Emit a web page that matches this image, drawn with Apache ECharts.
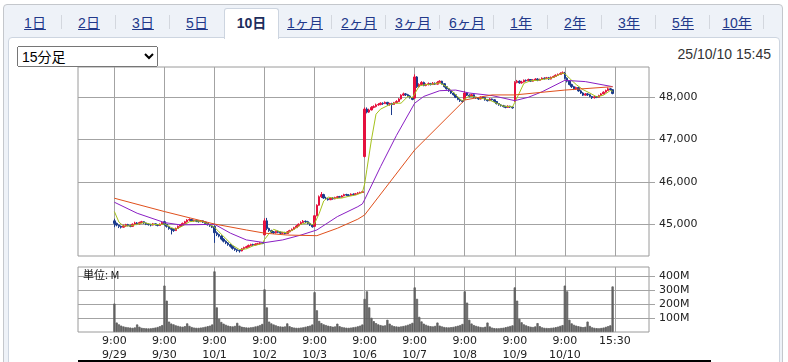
<!DOCTYPE html>
<html><head><meta charset="utf-8">
<script src="https://cdn.jsdelivr.net/npm/echarts@6/dist/echarts.min.js"></script>
<style>
html,body{margin:0;padding:0;background:#fff;width:788px;height:362px;overflow:hidden;font-family:"Liberation Sans","Noto Sans CJK JP",sans-serif;}
#outer{position:absolute;left:3px;top:4px;width:778px;height:420px;border:1px solid #c4c7cc;border-radius:4px;background:#eef2f8;}
#panel{position:absolute;left:8px;top:37px;width:770px;height:400px;border:1px solid #cdd5e0;border-radius:4px 4px 0 0;background:#fff;}
#tabs{position:absolute;left:8px;top:8px;height:30px;display:flex;z-index:3;}
.tab{width:54px;height:30px;box-sizing:border-box;text-align:center;line-height:30px;font-size:14px;position:relative;}
.tab a{color:#22398a;text-decoration:underline;}
.tab.sep::after{content:"";position:absolute;right:0;top:7px;height:14px;border-right:1px solid #d3d7de;}
.tab.active{background:#fff;border:1px solid #cdd5e0;border-bottom:none;border-radius:3px 3px 0 0;font-weight:bold;color:#1d2d5c;height:31px;width:55px;margin-right:-1px;line-height:29px;}
#sel{position:absolute;left:17px;top:46px;width:141px;height:21px;font-size:14px;font-family:"Liberation Sans","Noto Sans CJK JP",sans-serif;z-index:3;}
#stamp{position:absolute;right:17px;top:46px;font-size:14px;color:#333;line-height:16px;z-index:3;}
#chart{position:absolute;left:0;top:62px;width:788px;height:300px;z-index:2;}
</style>
</head><body>
<div id="outer"></div>
<div id="panel"></div>
<div id="tabs"></div>
<select id="sel"><option>15分足</option><option>5分足</option><option>1分足</option></select>
<div id="stamp">25/10/10 15:45</div>
<div id="chart"></div>
<script>
// ---- tab labels ----
const tabLabels = ['1日','2日','3日','5日','10日','1ヶ月','2ヶ月','3ヶ月','6ヶ月','1年','2年','3年','5年','10年'];
const activeTab = '10日';
const stampText = '25/10/10 15:45';

// ---- axis labels ----
const days = ['9/29','9/30','10/1','10/2','10/3','10/6','10/7','10/8','10/9','10/10'];
const sessionTimes = ['9:00','9:15','9:30','9:45','10:00','10:15','10:30','10:45','11:00','11:15',
  '12:30','12:45','13:00','13:15','13:30','13:45','14:00','14:15','14:30','14:45','15:00','15:15'];
const closeLabel = '15:30';
const priceTicks = [45000,46000,47000,48000];
const volumeTicks = [100,200,300,400];
const volumeUnit = '単位: M';

// ---- 15-minute candles [open, close, low, high] ----
const c0929 = [[45080,45020,44930,45130],[45020,44980,44950,45040],[44980,44950,44910,44990],[44950,44930,44900,44970],[44930,44960,44920,44990],[44960,44990,44940,45010],[44990,44970,44950,45010],[44970,44950,44930,44990],[44950,45000,44940,45020],[45000,45030,44990,45060],[45030,45010,44980,45050],[45010,45040,44990,45060],[45040,45060,45020,45080],[45060,45030,45010,45070],[45030,45000,44980,45040],[45000,44990,44970,45020],[44990,44980,44950,45010],[44980,45010,44970,45030],[45010,44990,44970,45020],[44990,44970,44950,45000],[44970,45000,44960,45020],[45000,45040,44990,45050]];
const c0930 = [[45060,45000,44970,45080],[45000,44950,44920,45010],[44950,44900,44870,44960],[44900,44880,44760,44910],[44880,44850,44820,44900],[44850,44900,44840,44920],[44900,44950,44890,44970],[44950,44980,44940,45000],[44980,45020,44970,45040],[45020,45060,45010,45080],[45060,45100,45040,45120],[45100,45110,45080,45140],[45110,45080,45060,45120],[45080,45090,45060,45110],[45090,45070,45050,45100],[45070,45060,45040,45090],[45060,45080,45050,45100],[45080,45050,45030,45090],[45050,45020,45000,45060],[45020,44990,44970,45030],[44990,44960,44940,45000],[44960,44930,44910,44970]];
const c1001 = [[44950,44800,44560,44970],[44800,44760,44720,44830],[44760,44720,44690,44780],[44720,44650,44620,44740],[44650,44600,44570,44670],[44600,44560,44530,44620],[44560,44520,44490,44580],[44520,44480,44450,44540],[44480,44430,44400,44500],[44430,44400,44370,44450],[44400,44380,44340,44420],[44380,44370,44330,44400],[44370,44420,44360,44440],[44420,44450,44400,44470],[44450,44470,44430,44490],[44470,44500,44450,44520],[44500,44520,44480,44540],[44520,44510,44490,44540],[44510,44530,44500,44550],[44530,44540,44510,44560],[44540,44560,44520,44580],[44560,44550,44530,44580]];
const c1002 = [[44750,45080,44740,45140],[45080,44900,44860,45150],[44900,44850,44820,44920],[44850,44820,44790,44870],[44820,44800,44770,44840],[44800,44830,44780,44850],[44830,44810,44790,44850],[44810,44790,44760,44830],[44790,44800,44770,44820],[44800,44780,44760,44820],[44780,44820,44770,44840],[44820,44850,44810,44870],[44850,44880,44840,44900],[44880,44920,44870,44940],[44920,44960,44910,44980],[44960,45000,44950,45020],[45000,45040,44990,45070],[45040,45070,45030,45100],[45070,45060,45030,45090],[45060,45020,45000,45080],[45020,44980,44960,45040],[44980,44940,44920,45000]];
const c1003 = [[44950,45200,44940,45220],[45200,45450,45190,45470],[45450,45650,45440,45680],[45650,45700,45620,45760],[45700,45620,45600,45720],[45620,45600,45580,45650],[45600,45580,45560,45620],[45580,45620,45570,45640],[45620,45600,45580,45640],[45600,45630,45590,45650],[45630,45650,45610,45670],[45650,45640,45620,45670],[45640,45670,45630,45690],[45670,45700,45660,45720],[45700,45690,45670,45720],[45690,45680,45660,45710],[45680,45710,45670,45730],[45710,45700,45680,45730],[45700,45720,45690,45740],[45720,45740,45710,45760],[45740,45750,45720,45770],[45750,45770,45740,45790]];
const c1006 = [[46600,47720,46580,47760],[47720,47650,47620,47760],[47650,47700,47630,47730],[47700,47760,47690,47790],[47760,47780,47740,47810],[47780,47820,47760,47850],[47820,47830,47800,47860],[47830,47860,47810,47880],[47860,47850,47820,47880],[47850,47880,47840,47900],[47880,47840,47800,47890],[47840,47850,47800,47870],[47850,47830,47580,47870],[47830,47870,47820,47890],[47870,47900,47860,47930],[47900,47960,47890,47980],[47960,48050,47950,48070],[48050,48080,48030,48110],[48080,48060,48030,48100],[48060,48030,48010,48080],[48030,47990,47970,48050],[47990,47950,47930,48010]];
const c1007 = [[47980,48480,47960,48540],[48480,48250,48220,48500],[48250,48300,48230,48330],[48300,48350,48280,48380],[48350,48280,48260,48370],[48280,48300,48260,48330],[48300,48320,48280,48350],[48320,48300,48280,48340],[48300,48330,48290,48360],[48330,48310,48290,48350],[48310,48350,48300,48380],[48350,48380,48330,48400],[48380,48320,48300,48390],[48320,48250,48230,48330],[48250,48200,48180,48260],[48200,48150,48130,48210],[48150,48100,48080,48160],[48100,48060,48040,48110],[48060,48000,47980,48070],[48000,47950,47930,48010],[47950,47920,47890,47960],[47920,47900,47870,47930]];
const c1008 = [[47950,48100,47940,48150],[48100,48050,48030,48120],[48050,48020,48000,48070],[48020,48060,48010,48080],[48060,48000,47980,48070],[48000,47980,47960,48010],[47980,47960,47940,48000],[47960,48000,47950,48020],[48000,47990,47970,48020],[47990,47940,47920,48000],[47940,47920,47900,47960],[47920,47960,47910,47980],[47960,47940,47920,47970],[47940,47900,47880,47950],[47900,47850,47830,47910],[47850,47820,47800,47860],[47820,47800,47780,47840],[47800,47780,47760,47820],[47780,47760,47740,47800],[47760,47790,47750,47810],[47790,47770,47750,47800],[47770,47750,47730,47790]];
const c1009 = [[47900,48350,47890,48380],[48350,48380,48330,48410],[48380,48340,48320,48400],[48340,48360,48320,48390],[48360,48400,48350,48420],[48400,48390,48370,48420],[48390,48420,48380,48440],[48420,48380,48360,48430],[48380,48410,48370,48430],[48410,48430,48400,48450],[48430,48400,48380,48450],[48400,48420,48390,48440],[48420,48450,48410,48470],[48450,48440,48420,48470],[48440,48460,48430,48480],[48460,48430,48410,48480],[48430,48470,48420,48490],[48470,48490,48460,48510],[48490,48520,48480,48540],[48520,48540,48510,48560],[48540,48560,48530,48590],[48560,48580,48550,48610]];
const c1010 = [[48560,48450,48420,48600],[48450,48380,48350,48470],[48380,48300,48280,48400],[48300,48250,48220,48320],[48250,48200,48170,48270],[48200,48230,48180,48250],[48230,48150,48130,48240],[48150,48100,48080,48170],[48100,48050,48030,48120],[48050,48080,48040,48100],[48080,48060,48030,48100],[48060,48020,48000,48080],[48020,47990,47960,48030],[47990,48010,47970,48030],[48010,48000,47980,48030],[48000,48040,47990,48060],[48040,48080,48030,48100],[48080,48120,48070,48140],[48120,48160,48110,48180],[48160,48200,48150,48230],[48200,48180,48160,48220],[48180,48090,48070,48190]];

// ---- 15-minute volume (M shares) ----
const v0929 = [204,68,55,46,40,36,34,32,30,33,54,38,30,28,27,26,27,29,32,36,42,50];
const v0930 = [333,225,75,61,55,48,44,40,38,42,62,44,36,32,30,30,32,34,38,42,46,54];
const v1001 = [435,177,95,72,60,52,46,42,40,44,66,46,38,35,33,32,34,36,40,44,50,58];
const v1002 = [306,177,75,62,54,48,42,40,38,40,62,42,35,32,30,30,32,34,38,42,46,54];
const v1003 = [286,156,80,64,55,50,45,42,38,40,60,42,36,33,31,30,32,34,37,41,46,54];
const v1006 = [238,292,177,102,78,64,55,50,46,48,88,60,48,42,40,38,40,43,47,52,58,66];
const v1007 = [320,238,109,76,60,52,46,42,40,44,68,46,40,36,34,33,35,37,41,45,50,58];
const v1008 = [292,211,88,61,50,44,40,36,34,38,68,40,32,28,27,27,29,31,35,39,43,48];
const v1009 = [320,225,95,70,55,48,42,38,36,40,64,42,34,30,29,28,30,32,35,39,44,50];
const v1010 = [333,292,88,62,52,46,42,38,35,38,75,44,34,30,28,27,29,32,37,42,48,327];

// ---- moving averages, read at bar positions [bar, value] ----
const maShort = [[0,45300],[2,45050],[4,44960],[7,44960],[10,45000],[13,45040],[16,45000],[19,44990],[21,45000],
 [22,45010],[25,44920],[27,44880],[30,44960],[33,45060],[36,45080],[39,45060],[42,44980],[43,44960],
 [44,44930],[46,44820],[49,44660],[52,44500],[55,44400],[58,44420],[61,44490],[64,44530],[65,44540],
 [66,44640],[68,44780],[70,44880],[73,44820],[76,44800],[79,44880],[82,45000],[85,45040],[87,44990],
 [88,45020],[90,45250],[92,45550],[94,45640],[97,45610],[100,45620],[103,45660],[106,45690],[109,45750],
 [110,45950],[111,46300],[113,47000],[115,47600],[117,47720],[120,47800],[123,47860],[126,47860],[129,48020],[131,47990],
 [132,48080],[134,48270],[137,48300],[140,48310],[143,48340],[146,48250],[149,48120],[152,47950],[153,47920],
 [154,47960],[156,48030],[159,48000],[162,47970],[165,47930],[168,47860],[171,47790],[174,47780],[175,47770],
 [176,47880],[178,48100],[180,48330],[183,48390],[186,48400],[189,48430],[192,48450],[195,48520],[197,48570],
 [198,48560],[200,48450],[203,48300],[206,48180],[209,48100],[212,48010],[215,48050],[218,48160],[219,48140]];
const maMid = [[0,45520],[10,45260],[22,45040],[29,44985],[36,44990],[44,45000],[51,44790],[58,44630],[66,44565],
 [74,44630],[82,44745],[89,44865],[98,45180],[107,45415],[109,45480],[110,45580],[117,46360],[124,47100],[132,47860],
 [136,48020],[143,48155],[150,48170],[156,48100],[166,48040],[176,47920],[182,48000],[188,48130],[198,48400],
 [207,48370],[219,48250]];
const maLong = [[0,45615],[22,45300],[44,45005],[58,44865],[66,44790],[76,44745],[89,44730],[98,44905],[107,45120],
 [110,45220],[132,46755],[154,47935],[166,48055],[176,48055],[198,48170],[219,48250]];

// ---- page chrome ----
const tabsEl = document.getElementById('tabs');
tabLabels.forEach((t, i) => {
  const d = document.createElement('div');
  d.className = 'tab';
  if (t === activeTab) { d.classList.add('active'); d.textContent = t; }
  else {
    const nextActive = tabLabels[i + 1] === activeTab;
    if (!nextActive) d.classList.add('sep');
    const a = document.createElement('a'); a.textContent = t; d.appendChild(a);
  }
  tabsEl.appendChild(d);
});
document.getElementById('stamp').textContent = stampText;

// ---- build chart data ----
const PAD_L = 16, PAD_R = 15;
const perDay = sessionTimes.length;
const cats = [];
for (let i = 0; i < PAD_L; i++) cats.push('padL' + i);
days.forEach(d => sessionTimes.forEach(t => cats.push(d + ' ' + t)));
cats.push(days[days.length - 1] + ' ' + closeLabel);
for (let i = 0; i < PAD_R; i++) cats.push('padR' + i);
const dayStart = new Set(days.map((d, k) => PAD_L + k * perDay));
const endIdx = PAD_L + days.length * perDay;
const isGrid = i => dayStart.has(i) || i === endIdx;

const dayCandles = [c0929,c0930,c1001,c1002,c1003,c1006,c1007,c1008,c1009,c1010];
const dayVolumes = [v0929,v0930,v1001,v1002,v1003,v1006,v1007,v1008,v1009,v1010];
const candleData = [], volData = [];
dayCandles.forEach((arr, k) => arr.forEach((r, b) => candleData.push([PAD_L + k * perDay + b, r[0], r[1], r[2], r[3]])));
dayVolumes.forEach((arr, k) => arr.forEach((v, b) => volData.push([PAD_L + k * perDay + b, v])));
const toLine = arr => arr.map(p => [PAD_L + p[0], p[1]]);

const gridColor = '#a3a3a3';
const labelFont = '"DejaVu Sans", "Noto Sans CJK JP", sans-serif';

const chart = echarts.init(document.getElementById('chart'), null, {renderer: 'canvas'});
chart.setOption({
  animation: false,
  grid: [
    {left: 78, top: 5, width: 571, height: 189, show: true, borderColor: '#9a9a9a', borderWidth: 1, backgroundColor: '#fff'},
    {left: 78, top: 205, width: 571, height: 69, show: true, borderColor: '#9a9a9a', borderWidth: 1, backgroundColor: '#fff'}
  ],
  xAxis: [
    {type: 'category', gridIndex: 0, data: cats, boundaryGap: false,
     axisLine: {show: false}, axisTick: {show: false}, axisLabel: {show: false},
     splitLine: {show: true, interval: (i) => isGrid(i), lineStyle: {color: gridColor, width: 1}}},
    {type: 'category', gridIndex: 1, data: cats, boundaryGap: false,
     axisLine: {show: false}, axisTick: {show: false},
     axisLabel: {show: true, interval: (i) => isGrid(i), margin: 2, fontSize: 11, lineHeight: 14,
       fontFamily: labelFont, color: '#222',
       formatter: (value, index) => {
         const parts = String(value).split(' ');
         if (dayStart.has(index)) return parts[1] + '\n' + parts[0];
         if (index === endIdx) return parts[1];
         return '';
       }},
     splitLine: {show: true, interval: (i) => isGrid(i), lineStyle: {color: gridColor, width: 1}}}
  ],
  yAxis: [
    {type: 'value', gridIndex: 0, position: 'right', min: 44250, max: 48715, scale: true,
     axisLine: {show: false},
     axisTick: {show: true, inside: false, length: 6, lineStyle: {color: gridColor}, customValues: priceTicks},
     axisLabel: {show: true, margin: 10, fontSize: 11, fontFamily: labelFont, color: '#222',
       customValues: priceTicks, formatter: v => Number(v).toLocaleString('en-US')},
     splitLine: {show: true, lineStyle: {color: gridColor, width: 1}}},
    {type: 'value', gridIndex: 1, position: 'right', min: 0, max: 466,
     axisLine: {show: false},
     axisTick: {show: true, inside: false, length: 6, lineStyle: {color: gridColor}, customValues: volumeTicks},
     axisLabel: {show: true, margin: 10, fontSize: 11, fontFamily: labelFont, color: '#222',
       customValues: volumeTicks, formatter: v => v + 'M'},
     splitLine: {show: true, lineStyle: {color: gridColor, width: 1}}}
  ],
  series: [
    {type: 'candlestick', xAxisIndex: 0, yAxisIndex: 0, data: candleData,
     encode: {x: 0, y: [1, 2, 3, 4]}, barWidth: 2,
     itemStyle: {color: '#e5103e', color0: '#1a3a8c', borderColor: '#e5103e', borderColor0: '#1a3a8c', borderWidth: 1}},
    {type: 'line', xAxisIndex: 0, yAxisIndex: 0, data: toLine(maShort), symbol: 'none', smooth: false,
     lineStyle: {color: '#a5c21c', width: 1}},
    {type: 'line', xAxisIndex: 0, yAxisIndex: 0, data: toLine(maMid), symbol: 'none', smooth: false,
     lineStyle: {color: '#8a1fc4', width: 1}},
    {type: 'line', xAxisIndex: 0, yAxisIndex: 0, data: toLine(maLong), symbol: 'none', smooth: false,
     lineStyle: {color: '#e0501c', width: 1}},
    {type: 'bar', xAxisIndex: 1, yAxisIndex: 1, data: volData, barWidth: '100%', barCategoryGap: '0%',
     itemStyle: {color: '#626262', borderColor: '#626262', borderWidth: 0.8}}
  ],
  graphic: [
    {type: 'text', left: 83, top: 207, z: 10,
     style: {text: volumeUnit, fontSize: 11, fontFamily: '"Noto Sans CJK JP", sans-serif', fill: '#111'}},
    {type: 'rect', shape: {x: 78, y: 298, width: 633, height: 2}, style: {fill: '#000'}}
  ]
});
</script>
</body></html>
